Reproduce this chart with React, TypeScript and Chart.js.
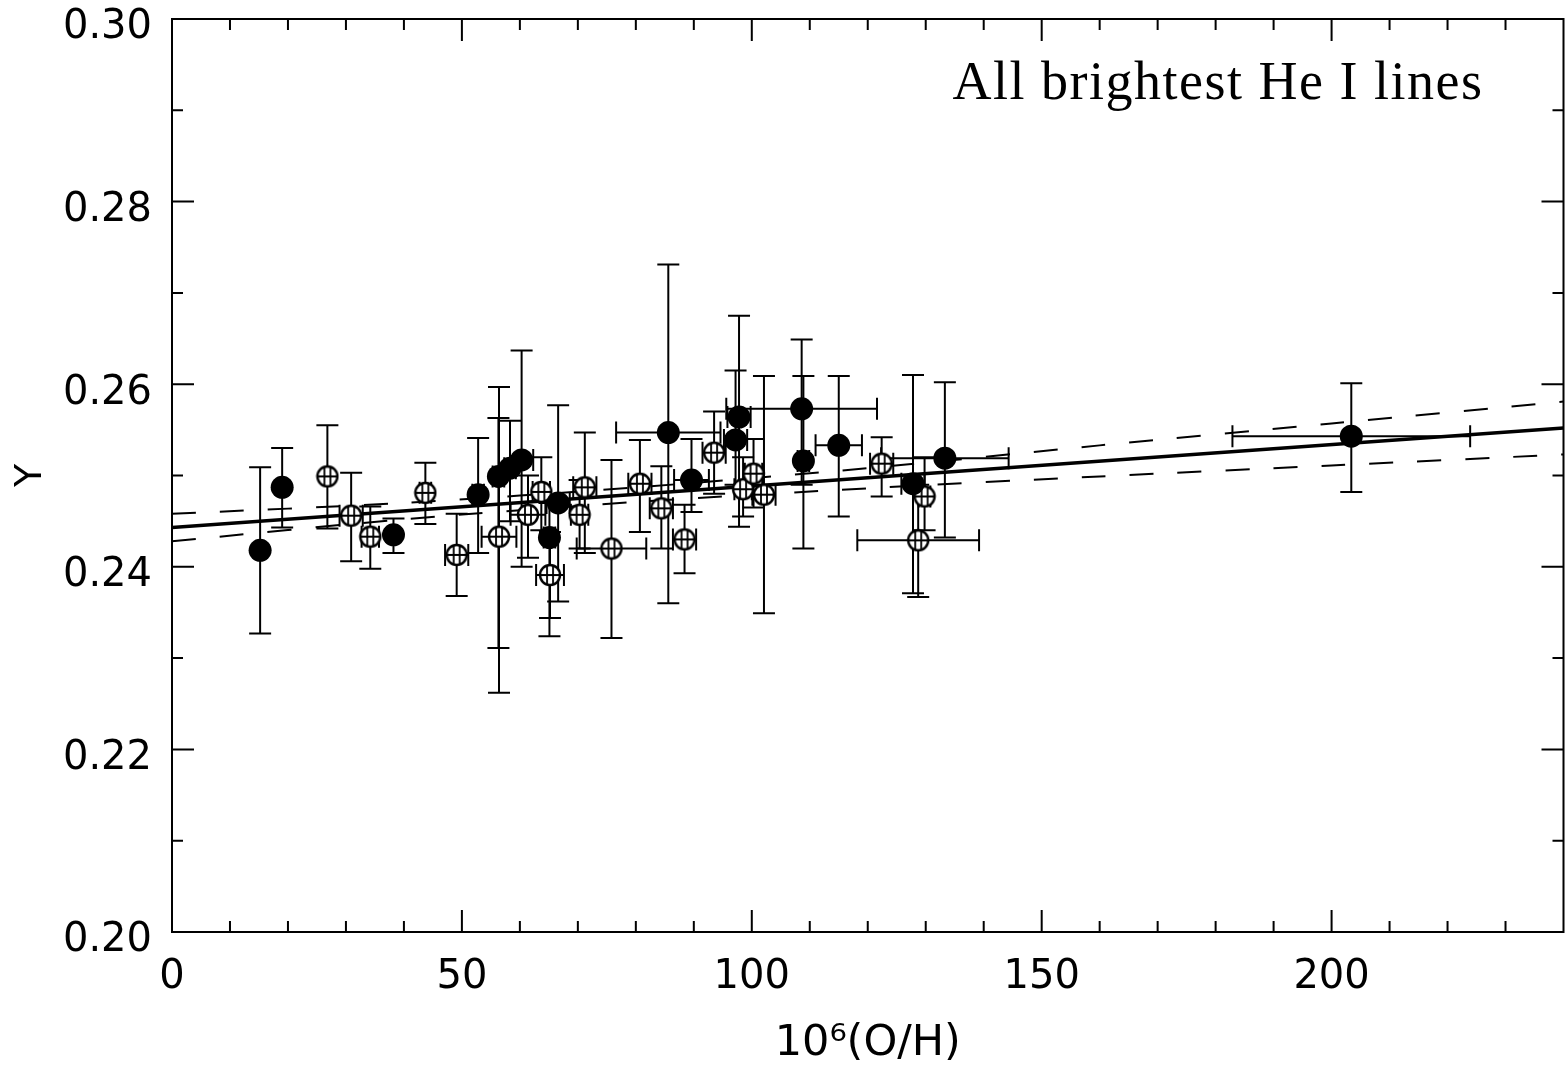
import React, { useEffect, useRef } from 'react';
import { Chart, registerables } from 'chart.js';

Chart.register(...registerables);

// Filled symbols: x = 10^6 (O/H), y = Y, with errors
const filledX = [15.2, 19.0, 38.2, 52.8, 56.3, 58.3, 60.3, 65.1, 66.6, 85.6, 89.6, 97.8, 97.2, 108.6, 108.9, 115.0, 127.8, 133.3, 203.4];
const filledY = [0.2418, 0.2487, 0.2435, 0.2479, 0.2499, 0.2508, 0.2517, 0.2432, 0.2470, 0.2547, 0.2495, 0.2564, 0.2539, 0.2573, 0.2516, 0.2533, 0.2491, 0.2519, 0.2543];
const filledXErr = [0, 0, 0, 1, 1, 1, 2, 1, 2, 9, 3, 2, 2, 13, 1, 4, 2, 11, 20.5];
const filledYLo = [0.2327, 0.2443, 0.2415, 0.2415, 0.2311, 0.2450, 0.2400, 0.2324, 0.2362, 0.2360, 0.2460, 0.2444, 0.2490, 0.2490, 0.2420, 0.2455, 0.2371, 0.2432, 0.2482];
const filledYHi = [0.2509, 0.2530, 0.2453, 0.2541, 0.2563, 0.2560, 0.2637, 0.2470, 0.2577, 0.2731, 0.2540, 0.2675, 0.2615, 0.2649, 0.2609, 0.2609, 0.2610, 0.2602, 0.2601];

// Open symbols
const openX = [26.8, 30.9, 34.2, 43.7, 49.1, 56.4, 61.4, 63.7, 65.2, 70.3, 71.2, 75.8, 80.7, 84.4, 88.4, 93.5, 98.5, 100.3, 102.1, 122.4, 129.8, 128.7];
const openY = [0.2499, 0.2456, 0.2433, 0.2481, 0.2413, 0.2433, 0.2457, 0.2482, 0.2391, 0.2457, 0.2487, 0.2420, 0.2491, 0.2464, 0.2430, 0.2525, 0.2485, 0.2502, 0.2479, 0.2513, 0.2477, 0.2429];
const openXErr = [0, 2, 1.5, 1, 2, 3, 3, 1.5, 2.4, 1.5, 2, 6, 2, 2, 2, 2, 1.5, 1.5, 2, 2, 1, 10.5];
const openYLo = [0.2442, 0.2406, 0.2398, 0.2447, 0.2368, 0.2262, 0.2410, 0.2440, 0.2344, 0.2420, 0.2415, 0.2322, 0.2438, 0.2420, 0.2393, 0.2480, 0.2455, 0.2465, 0.2349, 0.2477, 0.2440, 0.2367];
const openYHi = [0.2555, 0.2503, 0.2466, 0.2514, 0.2458, 0.2597, 0.2500, 0.2520, 0.2438, 0.2495, 0.2547, 0.2517, 0.2539, 0.2510, 0.2468, 0.2570, 0.2520, 0.2540, 0.2609, 0.2542, 0.2520, 0.2490];

// Linear fit and its confidence band
const fitX = [0, 240];
const fitY = [0.2443, 0.2552];
const bandX = [0, 40, 80, 120, 160, 200, 240];
const bandUpper = [0.2458, 0.2470, 0.2487, 0.2508, 0.2533, 0.2557, 0.2581];
const bandLower = [0.2428, 0.2452, 0.2471, 0.2486, 0.2499, 0.2511, 0.2523];

// Axis ticks
const xMajorTicks = [50, 100, 150, 200];
const xMinorTicks = [10, 20, 30, 40, 60, 70, 80, 90, 110, 120, 130, 140, 160, 170, 180, 190, 210, 220, 230];
const yMajorTicks = [0.22, 0.24, 0.26, 0.28];
const yMinorTicks = [0.21, 0.23, 0.25, 0.27, 0.29];

const annotation = 'All brightest He I lines';

function makeOpenMarker(): HTMLCanvasElement {
  const c = document.createElement('canvas');
  c.width = 24;
  c.height = 24;
  const g = c.getContext('2d')!;
  g.fillStyle = '#fff';
  g.beginPath();
  g.arc(12, 12, 10, 0, Math.PI * 2);
  g.fill();
  g.strokeStyle = '#000';
  g.lineWidth = 2.4;
  g.stroke();
  g.lineWidth = 1.8;
  g.beginPath();
  g.moveTo(2, 12); g.lineTo(22, 12);
  g.moveTo(9, 3); g.lineTo(9, 21);
  g.moveTo(15, 3); g.lineTo(15, 21);
  g.stroke();
  return c;
}

const errorBarPlugin = {
  id: 'errorBars',
  beforeDatasetsDraw(chart: any) {
    const { ctx, chartArea, scales } = chart;
    const xs = scales.x, ys = scales.y;
    ctx.save();
    ctx.beginPath();
    ctx.rect(chartArea.left, chartArea.top, chartArea.right - chartArea.left, chartArea.bottom - chartArea.top);
    ctx.clip();
    ctx.strokeStyle = '#000';
    ctx.lineWidth = 2;
    const cap = 11;
    const drawSet = (X: number[], Y: number[], XE: number[], YL: number[], YH: number[]) => {
      for (let i = 0; i < X.length; i++) {
        const px = xs.getPixelForValue(X[i]);
        const py = ys.getPixelForValue(Y[i]);
        const pLo = ys.getPixelForValue(YL[i]);
        const pHi = ys.getPixelForValue(YH[i]);
        ctx.beginPath();
        ctx.moveTo(px, pLo); ctx.lineTo(px, pHi);
        ctx.moveTo(px - cap, pLo); ctx.lineTo(px + cap, pLo);
        ctx.moveTo(px - cap, pHi); ctx.lineTo(px + cap, pHi);
        if (XE[i] > 0) {
          const xl = xs.getPixelForValue(X[i] - XE[i]);
          const xr = xs.getPixelForValue(X[i] + XE[i]);
          ctx.moveTo(xl, py); ctx.lineTo(xr, py);
          ctx.moveTo(xl, py - cap); ctx.lineTo(xl, py + cap);
          ctx.moveTo(xr, py - cap); ctx.lineTo(xr, py + cap);
        }
        ctx.stroke();
      }
    };
    drawSet(openX, openY, openXErr, openYLo, openYHi);
    drawSet(filledX, filledY, filledXErr, filledYLo, filledYHi);
    ctx.restore();
  },
};

const framePlugin = {
  id: 'frame',
  afterDraw(chart: any) {
    const { ctx, chartArea, scales } = chart;
    const { left, right, top, bottom } = chartArea;
    const xs = scales.x, ys = scales.y;
    ctx.save();
    ctx.strokeStyle = '#000';
    ctx.lineWidth = 2;
    ctx.strokeRect(left, top, right - left, bottom - top);
    ctx.beginPath();
    const major = 22, minor = 11;
    const xt = (v: number, len: number) => {
      const p = xs.getPixelForValue(v);
      ctx.moveTo(p, bottom); ctx.lineTo(p, bottom - len);
      ctx.moveTo(p, top); ctx.lineTo(p, top + len);
    };
    const yt = (v: number, len: number) => {
      const p = ys.getPixelForValue(v);
      ctx.moveTo(left, p); ctx.lineTo(left + len, p);
      ctx.moveTo(right, p); ctx.lineTo(right - len, p);
    };
    xMajorTicks.forEach((v) => xt(v, major));
    xMinorTicks.forEach((v) => xt(v, minor));
    yMajorTicks.forEach((v) => yt(v, major));
    yMinorTicks.forEach((v) => yt(v, minor));
    ctx.stroke();
    ctx.fillStyle = '#000';
    ctx.font = '54px "Liberation Serif"';
    try { (ctx as any).letterSpacing = '1.5px'; } catch (e) { /* ignore */ }
    ctx.textAlign = 'right';
    ctx.textBaseline = 'alphabetic';
    ctx.fillText(annotation, right - 80, top + 80);
    ctx.restore();
  },
};

export default function App() {
  const canvasRef = useRef<HTMLCanvasElement | null>(null);

  useEffect(() => {
    document.body.style.margin = '0';
    const canvas = canvasRef.current!;
    const openMarker = makeOpenMarker();
    const tickFont = { family: '"DejaVu Sans"', size: 40 };
    const chart = new Chart(canvas, {
      type: 'scatter',
      data: {
        datasets: [
          {
            label: 'filled',
            data: filledX.map((x, i) => ({ x, y: filledY[i] })),
            pointStyle: 'circle',
            pointRadius: 11.5,
            backgroundColor: '#000',
            borderColor: '#000',
            borderWidth: 0,
          },
          {
            label: 'open',
            data: openX.map((x, i) => ({ x, y: openY[i] })),
            pointStyle: openMarker as any,
            pointRadius: 10,
            backgroundColor: '#fff',
            borderColor: '#000',
          },
          {
            label: 'fit',
            type: 'line',
            data: fitX.map((x, i) => ({ x, y: fitY[i] })),
            borderColor: '#000',
            borderWidth: 3.5,
            pointRadius: 0,
            fill: false,
          },
          {
            label: 'upper',
            type: 'line',
            data: bandX.map((x, i) => ({ x, y: bandUpper[i] })),
            borderColor: '#000',
            borderWidth: 2,
            borderDash: [24, 24],
            pointRadius: 0,
            tension: 0.3,
            fill: false,
          },
          {
            label: 'lower',
            type: 'line',
            data: bandX.map((x, i) => ({ x, y: bandLower[i] })),
            borderColor: '#000',
            borderWidth: 2,
            borderDash: [24, 24],
            pointRadius: 0,
            tension: 0.3,
            fill: false,
          },
        ],
      } as any,
      options: {
        animation: false,
        responsive: false,
        maintainAspectRatio: false,
        layout: { padding: { top: 19, right: 4, left: 0, bottom: 0 } },
        plugins: { legend: { display: false }, tooltip: { enabled: false } },
        scales: {
          x: {
            type: 'linear',
            min: 0,
            max: 240,
            grid: { display: false, drawTicks: false },
            border: { display: false },
            ticks: { stepSize: 50, includeBounds: false, padding: 22, color: '#000', font: tickFont, maxRotation: 0, autoSkip: false },
            title: { display: true, text: '10⁶(O/H)', color: '#000', font: { family: '"DejaVu Sans"', size: 43 }, padding: { top: 0, bottom: 2 } },
            afterFit: (s: any) => { s.height = 140; s.paddingLeft = 0; s.paddingRight = 0; },
          },
          y: {
            type: 'linear',
            min: 0.2,
            max: 0.3,
            grid: { display: false, drawTicks: false },
            border: { display: false },
            ticks: {
              stepSize: 0.02,
              includeBounds: false,
              padding: 20,
              labelOffset: 9,
              color: '#000',
              font: tickFont,
              autoSkip: false,
              callback: (v: any) => Number(v).toFixed(2),
            },
            title: { display: true, text: 'Y', color: '#000', font: { family: '"DejaVu Sans"', size: 38 }, padding: { top: 8, bottom: 0 } },
            afterFit: (s: any) => { s.width = 172; s.paddingTop = 0; s.paddingBottom = 0; },
          },
        },
      } as any,
      plugins: [errorBarPlugin, framePlugin],
    });
    return () => chart.destroy();
  }, []);

  return (
    <div style={{ width: 1567, height: 1072, overflow: 'hidden', background: '#fff' }}>
      <canvas ref={canvasRef} width={1575} height={1072} style={{ display: 'block' }} />
    </div>
  );
}
